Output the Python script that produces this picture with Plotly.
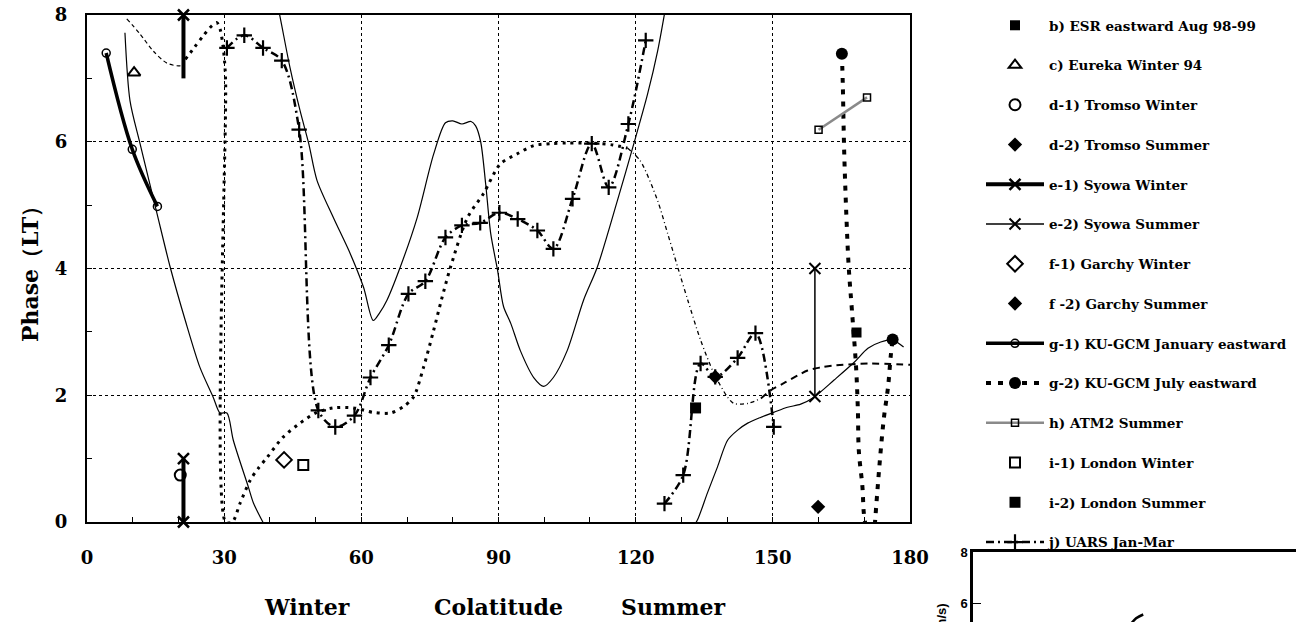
import plotly.graph_objects as go

# ---------------- data ----------------
# unlabelled thin solid model curve
solid_colat = [8.3, 9.4, 11.6, 15.3, 18.2, 21.5, 24.7, 27.6, 29.1, 30.6, 32.0, 35.3, 36.4, 38.6, None,
               41.2, 42.0, 44.4, 46.6, 48.5, 50.3, 53.9, 57.6, 60.5, 62.6, 64.0, 65.6, 68.5, 72.2, 75.8,
               78.4, 80.0, 82.0, 84.0, 85.0, 86.1, 87.2, 88.3, 89.8, 91.1, 92.7, 94.8, 97.7, 99.9, 102.0,
               105.0, 108.6, 111.6, 116.0, 119.6, 122.6, 124.8, 126.5, None,
               132.5, 133.5, 135.7, 137.9, 140.1, 142.3, 144.5, 147.3, 150.2, 153.2, 156.1, 159.0, 163.4,
               167.8, 170.8, 173.6, 176.2, 178.6]
solid_phase = [7.72, 6.65, 5.97, 4.87, 4.02, 3.18, 2.44, 1.97, 1.72, 1.72, 1.29, 0.55, 0.30, -0.02, None,
               8.30, 8.05, 7.17, 6.49, 5.97, 5.39, 4.80, 4.23, 3.70, 3.18, 3.30, 3.50, 4.02, 4.80, 5.80,
               6.30, 6.33, 6.28, 6.32, 6.25, 6.00, 5.33, 4.55, 3.97, 3.40, 3.13, 2.70, 2.28, 2.14, 2.28,
               2.70, 3.50, 4.02, 5.07, 5.97, 6.75, 7.43, 8.10, None,
               -0.08, 0.03, 0.46, 0.87, 1.29, 1.45, 1.56, 1.65, 1.73, 1.81, 1.86, 1.97, 2.24,
               2.52, 2.74, 2.84, 2.87, 2.76]

# unlabelled dotted model curve (drawn in several stroke styles)
thin_dash_colat = [8.7, 11.6, 14.5, 17.5, 20.4, 21.3]
thin_dash_phase = [7.94, 7.70, 7.43, 7.24, 7.20, 7.27]
dotted_colat = [21.5, 23.6, 25.4, 27.3, 28.4, 29.1, 29.8, 30.3, 30.3, 31.8, 33.5, 35.7, 37.5, 39.4, 42.9,
                46.6, 50.3, 53.9, 58.3, 62.6, 66.4, 69.2, 71.4, 73.6, 75.8, 77.5, 79.5, 83.2, 86.7,
                90.4, 94.1, 97.7, 101.4, 105.0, 110.0, 115.0, 118.2]
dotted_phase = [7.30, 7.50, 7.67, 7.83, 7.88, 7.78, 7.48, 7.00, 0.00, 0.00, 0.30, 0.66, 0.85, 1.02, 1.34,
                1.56, 1.73, 1.80, 1.80, 1.73, 1.72, 1.82, 1.97, 2.44, 3.02, 3.50, 4.02, 4.80, 5.18,
                5.65, 5.81, 5.94, 5.97, 5.98, 5.98, 5.95, 5.90]
dashdot_colat = [118.2, 121.0, 124.8, 127.0, 129.2, 131.4, 134.2, 137.1, 140.1, 141.5, 144.5, 147.4]
dashdot_phase = [5.90, 5.70, 5.07, 4.55, 4.02, 3.50, 2.87, 2.35, 1.97, 1.87, 1.87, 1.95]
dash_colat = [147.4, 149.6, 152.4, 157.6, 160.5, 163.4, 170.8, 180.0]
dash_phase = [1.95, 2.08, 2.19, 2.39, 2.44, 2.47, 2.50, 2.48]

# labelled data sets
esr_colat, esr_phase = [168.3], [2.99]
eureka_colat, eureka_phase = [10.3], [7.09]
tromso_w_colat, tromso_w_phase = [20.4], [0.74]
tromso_s_colat, tromso_s_phase = [159.9], [0.24]
syowa_w_colat, syowa_w_phase = [21.1, 21.1, None, 21.1], [0.0, 1.0, None, 8.0]
syowa_w_bar_colat, syowa_w_bar_phase = [21.1, 21.1], [7.0, 8.0]
syowa_s_colat, syowa_s_phase = [159.2, 159.2], [1.98, 4.0]
garchy_w_colat, garchy_w_phase = [43.1], [0.98]
garchy_s_colat, garchy_s_phase = [137.4], [2.29]
kuj_colat, kuj_phase = [4.2, 9.9, 15.4], [7.40, 5.88, 4.98]
kujul_colat = [165.1, 165.3, 165.6, 166.1, 166.6, 167.3, 168.2, 168.6, 168.8, 169.6, 169.9, 170.4, None,
               172.3, 173.0, 173.6, 174.3, 175.2, 175.8, 176.2]
kujul_phase = [7.39, 6.91, 5.86, 4.80, 4.02, 3.34, 2.45, 1.76, 1.13, 0.55, 0.14, -0.10, None,
               -0.05, 0.61, 1.13, 1.65, 2.13, 2.63, 2.88]
kujul_mark_colat, kujul_mark_phase = [165.1, None, 176.2], [7.39, None, 2.88]
atm2_colat, atm2_phase = [160.0, 170.6], [6.19, 6.70]
london_w_colat, london_w_phase = [47.3], [0.90]
london_s_colat, london_s_phase = [133.1], [1.80]
uars_colat = [30.6, 34.4, 38.5, 42.6, 46.4, 50.6, 54.3, 58.5, 62.0, 66.0, 70.3, 74.0, 78.4, 82.0, 86.0,
              90.2, 94.2, 98.5, 102.0, 106.2, 110.4, 114.1, 118.4, 122.2, None,
              126.3, 130.4, 134.2, 137.4, 142.3, 146.2, 150.2]
uars_phase = [7.48, 7.68, 7.48, 7.28, 6.19, 1.76, 1.50, 1.68, 2.28, 2.79, 3.60, 3.80, 4.49, 4.68, 4.72,
              4.88, 4.78, 4.60, 4.31, 5.10, 5.97, 5.28, 6.28, 7.60, None,
              0.29, 0.74, 2.50, 2.29, 2.59, 2.98, 1.50]

x_ticks = [0, 30, 60, 90, 120, 150, 180]
y_ticks = [0, 2, 4, 6, 8]

# fragment of the neighbouring figure (lower right)
frag_x, frag_y = [0.484, 0.505, 0.527], [5.10, 5.40, 5.55]
frag_yticks = [6, 8]

# ---------------- figure ----------------
W, H = 1296, 622
ML, MT = 87, 15
PW, PH = W - ML, H - MT
def px_x(p):
    return (p - ML) / PW
def px_y(p):
    return (H - p) / PH

SERIF = "DejaVu Serif"
fig = go.Figure()

def hidden(x, y, width, dash, shape="linear"):
    fig.add_trace(go.Scatter(x=x, y=y, mode="lines", showlegend=False, hoverinfo="skip",
                             line=dict(color="black", width=width, dash=dash, shape=shape, smoothing=0.8),
                             connectgaps=False))

hidden(solid_colat, solid_phase, 1.2, "solid", "spline")
hidden(thin_dash_colat, thin_dash_phase, 1.2, "4px,3px", "spline")
hidden(dotted_colat, dotted_phase, 3, "3px,5px", "spline")
hidden(dashdot_colat, dashdot_phase, 1.3, "4px,3px,1px,3px", "spline")
hidden(dash_colat, dash_phase, 2, "7px,5px", "spline")

def mk(name, x, y, mode, symbol=None, size=9, filled=True, lw=0, line=None, group=None, legend=True,
       clip=True):
    marker = None
    if symbol is not None:
        marker = dict(symbol=symbol, size=size,
                      color="black" if filled else "white",
                      line=dict(color="black", width=lw))
    fig.add_trace(go.Scatter(x=x, y=y, mode=mode, name=name, marker=marker, line=line,
                             showlegend=legend, legendgroup=group or name, connectgaps=False,
                             cliponaxis=clip))

mk("b) ESR eastward Aug 98-99", esr_colat, esr_phase, "markers", "square", 10)
mk("c) Eureka Winter 94", eureka_colat, eureka_phase, "markers", "triangle-up-open", 11, lw=2)
mk("d-1) Tromso Winter", tromso_w_colat, tromso_w_phase, "markers", "circle-open", 11, lw=2)
mk("d-2) Tromso Summer", tromso_s_colat, tromso_s_phase, "markers", "diamond", 11)
mk("e-1) Syowa Winter", syowa_w_colat, syowa_w_phase, "lines+markers", "x-thin", 11, lw=2.5,
   line=dict(color="black", width=4), group="e1", clip=False)
fig.add_trace(go.Scatter(x=syowa_w_bar_colat, y=syowa_w_bar_phase, mode="lines", showlegend=False,
                         legendgroup="e1", line=dict(color="black", width=4)))
mk("e-2) Syowa Summer", syowa_s_colat, syowa_s_phase, "lines+markers", "x-thin", 11, lw=2,
   line=dict(color="black", width=1.5))
mk("f-1) Garchy Winter", garchy_w_colat, garchy_w_phase, "markers", "diamond-open", 12, lw=2)
mk("f -2) Garchy Summer", garchy_s_colat, garchy_s_phase, "markers", "diamond", 11)
mk("g-1) KU-GCM January eastward", kuj_colat, kuj_phase, "lines+markers", "circle-open", 8, lw=1.5,
   line=dict(color="black", width=3.5, shape="spline"))
fig.add_trace(go.Scatter(x=kujul_colat, y=kujul_phase, mode="lines", showlegend=False, legendgroup="g2",
                         connectgaps=False, line=dict(color="black", width=4, dash="5px,7px", shape="spline")))
mk("g-2) KU-GCM July eastward", kujul_mark_colat, kujul_mark_phase, "lines+markers", "circle", 12,
   group="g2", line=dict(color="black", width=4, dash="5px,7px"))
mk("h) ATM2 Summer", atm2_colat, atm2_phase, "lines+markers", "square-open", 7, lw=1.5,
   line=dict(color="#8a8a8a", width=2.5))
mk("i-1) London Winter", london_w_colat, london_w_phase, "markers", "square-open", 10, lw=2)
mk("i-2) London Summer", london_s_colat, london_s_phase, "markers", "square", 11)
mk("j) UARS Jan-Mar", uars_colat, uars_phase, "lines+markers", "cross-thin", 11, lw=2.2,
   line=dict(color="black", width=2.5, dash="8px,4px,2px,4px", shape="spline", smoothing=0.9))

# fragment trace
fig.add_trace(go.Scatter(x=frag_x, y=frag_y, mode="lines", xaxis="x2", yaxis="y2", showlegend=False,
                         line=dict(color="black", width=2.5, shape="spline")))

tickfont = dict(family=SERIF, size=18, color="black", weight="bold")
titlefont = dict(family=SERIF, size=22, color="black", weight="bold")
fig.update_layout(
    width=W, height=H,
    margin=dict(l=ML, r=0, t=MT, b=0, pad=0, autoexpand=False),
    paper_bgcolor="white", plot_bgcolor="white",
    showlegend=True,
    xaxis=dict(domain=[0, px_x(910)], range=[0, 180], tickvals=x_ticks, ticks="inside", ticklen=5,
               tickcolor="black", showline=True, linecolor="black", linewidth=2, mirror=True,
               showgrid=True, gridcolor="black", gridwidth=1, griddash="dot", zeroline=False,
               tickfont=tickfont, ticklabelstandoff=18, automargin=False,
               minor=dict(dtick=10, ticks="inside", ticklen=5, tickcolor="black", showgrid=False),
               title=dict(text="Colatitude", font=titlefont, standoff=33)),
    yaxis=dict(domain=[px_y(522), 1], range=[0, 8], tickvals=y_ticks, ticks="inside", ticklen=5,
               tickcolor="black", showline=True, linecolor="black", linewidth=2, mirror=True,
               showgrid=True, gridcolor="black", gridwidth=1, griddash="dot", zeroline=False,
               tickfont=tickfont, ticklabelstandoff=14, automargin=False,
               minor=dict(dtick=1, ticks="inside", ticklen=5, tickcolor="black", showgrid=False),
               title=dict(text="Phase（LT）", font=titlefont, standoff=10)),
    xaxis2=dict(domain=[px_x(973), 1], range=[0, 1], anchor="y2", showticklabels=False, ticks="",
                showline=True, linecolor="black", linewidth=2.5, mirror=True, showgrid=False,
                zeroline=False, automargin=False),
    yaxis2=dict(domain=[0, px_y(552)], range=[5.255, 8], anchor="x2", tickvals=frag_yticks,
                ticks="inside", ticklen=8, tickcolor="black", showline=True, linecolor="black",
                linewidth=2.5, showgrid=False, zeroline=False, automargin=False,
                tickfont=dict(family="Liberation Sans", size=13, color="black", weight="bold")),
    legend=dict(x=981 / W, xanchor="left", xref="container", y=1 - 10 / H, yref="container", yanchor="top",
                font=dict(family=SERIF, size=13.5, color="black", weight="bold"),
                itemwidth=58, tracegroupgap=19.2, bgcolor="rgba(0,0,0,0)", traceorder="grouped",
                maxheight=H),
    annotations=[
        dict(text="Winter", x=px_x(307), y=px_y(607), xref="paper", yref="paper", showarrow=False,
             xanchor="center", yanchor="middle", font=titlefont),
        dict(text="Summer", x=px_x(673), y=px_y(607), xref="paper", yref="paper", showarrow=False,
             xanchor="center", yanchor="middle", font=titlefont),
        dict(text="(m/s)", x=px_x(941), y=px_y(602), xref="paper", yref="paper", showarrow=False,
             textangle=-90, xanchor="center", yanchor="top",
             font=dict(family="Liberation Sans", size=13, color="black", weight="bold")),
    ],
)

fig.write_html("out.html")
